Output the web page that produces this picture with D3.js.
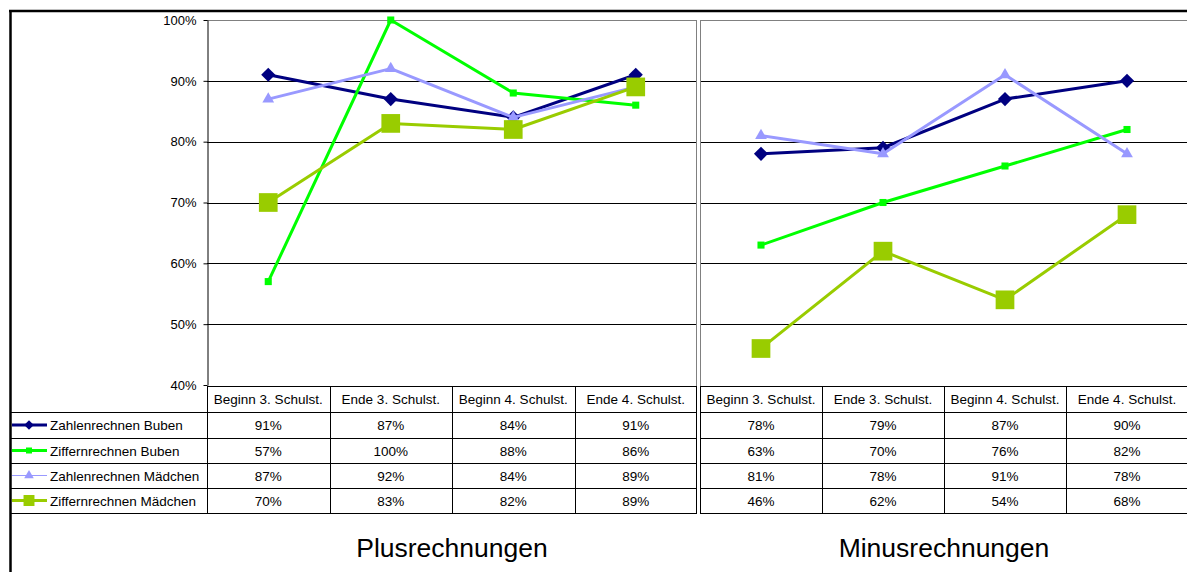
<!DOCTYPE html>
<html><head><meta charset="utf-8">
<script src="https://cdn.jsdelivr.net/npm/d3@7"></script>
<style>body{margin:0;background:#fff}svg{display:block;font-family:Arial,"Liberation Sans",sans-serif}</style>
</head><body><svg id="c" width="1187" height="572"></svg>
<script>
const categories = ["Beginn 3. Schulst.","Ende 3. Schulst.","Beginn 4. Schulst.","Ende 4. Schulst."];
const seriesNames = ["Zahlenrechnen Buben","Ziffernrechnen Buben","Zahlenrechnen Mädchen","Ziffernrechnen Mädchen"];
const plusZahlenBuben = [0.91,0.87,0.84,0.91];
const plusZiffernBuben = [0.57,1.00,0.88,0.86];
const plusZahlenMaedchen = [0.87,0.92,0.84,0.89];
const plusZiffernMaedchen = [0.70,0.83,0.82,0.89];
const minusZahlenBuben = [0.78,0.79,0.87,0.90];
const minusZiffernBuben = [0.63,0.70,0.76,0.82];
const minusZahlenMaedchen = [0.81,0.78,0.91,0.78];
const minusZiffernMaedchen = [0.46,0.62,0.54,0.68];
const yTicks = [0.4,0.5,0.6,0.7,0.8,0.9,1.0];
const panelTitles = ["Plusrechnungen","Minusrechnungen"];

const styles = [
  {color:"#000080", width:3, marker:"diamond", size:100, legendSize:45, legendWidth:3},
  {color:"#00FF00", width:3, marker:"square", size:50, legendSize:36, legendWidth:3},
  {color:"#9999FF", width:3, marker:"triangle", size:60, legendSize:40, legendWidth:1},
  {color:"#99CC00", width:3, marker:"square", size:350, legendSize:120, legendWidth:3}
];
const symType = {diamond:d3.symbolSquare, square:d3.symbolSquare, triangle:d3.symbolTriangle};
const rot = m => m === "diamond" ? " rotate(45)" : "";

const svg = d3.select("#c");
const y = d3.scaleLinear().domain([0.4,1.0]).range([385,20]);
const rowsY = [386,412,438,463,488,513];

const panels = [
  {x0:207, x1:697, data:[plusZahlenBuben,plusZiffernBuben,plusZahlenMaedchen,plusZiffernMaedchen], axis:true, title:panelTitles[0]},
  {x0:700, x1:1188, data:[minusZahlenBuben,minusZiffernBuben,minusZahlenMaedchen,minusZiffernMaedchen], axis:false, title:panelTitles[1]}
];

panels.forEach(p => {
  const x = d3.scaleBand().domain(categories).range([p.x0,p.x1]).padding(0);
  const g = svg.append("g");
  g.selectAll(".grid").data(yTicks.filter(t=>t>0.4 && t<1.0)).join("line")
    .attr("x1",p.x0).attr("x2",p.x1).attr("y1",d=>Math.round(y(d))+0.5).attr("y2",d=>Math.round(y(d))+0.5)
    .attr("stroke","#000").attr("stroke-width",1);
  g.append("line").attr("x1",p.x0).attr("x2",p.x1).attr("y1",20.5).attr("y2",20.5).attr("stroke","#808080");
  g.append("line").attr("x1",p.x1-0.5).attr("x2",p.x1-0.5).attr("y1",20).attr("y2",386).attr("stroke","#808080");
  if (p.axis) {
    const ax = g.append("g").attr("transform",`translate(${p.x0+0.5},0)`)
      .call(d3.axisLeft(y).tickValues(yTicks).tickFormat(d3.format(".0%")).tickSize(4).tickSizeOuter(0));
    ax.select(".domain").attr("stroke","#000");
    ax.selectAll("text").attr("font-size",13).attr("fill","#000").attr("font-family","Arial, Liberation Sans, sans-serif").attr("x",-11);
    ax.selectAll(".tick line").attr("stroke","#000");
  } else {
    g.append("line").attr("x1",p.x0+0.5).attr("x2",p.x0+0.5).attr("y1",20).attr("y2",513).attr("stroke","#808080");
  }
  const t = svg.append("g");
  const lx0 = p.axis ? 10 : p.x0;
  t.append("line").attr("x1",p.x0).attr("x2",p.x1).attr("y1",rowsY[0]+0.5).attr("y2",rowsY[0]+0.5).attr("stroke","#000");
  rowsY.slice(1).forEach(ry => {
    t.append("line").attr("x1",lx0).attr("x2",p.x1).attr("y1",ry+0.5).attr("y2",ry+0.5).attr("stroke","#000");
  });
  categories.forEach((c,i) => {
    const cx = x(c);
    t.append("line").attr("x1",Math.round(cx)+0.5).attr("x2",Math.round(cx)+0.5).attr("y1",rowsY[0]).attr("y2",rowsY[5]).attr("stroke","#000");
    t.append("text").attr("x",cx+x.bandwidth()/2).attr("y",(rowsY[0]+rowsY[1])/2+5).attr("text-anchor","middle")
      .attr("font-size",13.5).text(c);
    p.data.forEach((s,si) => {
      t.append("text").attr("x",cx+x.bandwidth()/2).attr("y",(rowsY[si+1]+rowsY[si+2])/2+5).attr("text-anchor","middle")
        .attr("font-size",13.5).text(d3.format(".0%")(s[i]));
    });
  });
  t.append("line").attr("x1",p.x1-0.5).attr("x2",p.x1-0.5).attr("y1",rowsY[0]).attr("y2",rowsY[5]).attr("stroke","#000");
  p.data.forEach((s,si) => {
    const st = styles[si];
    const line = d3.line().x((d,i)=>x(categories[i])+x.bandwidth()/2).y(d=>y(d));
    g.append("path").attr("d",line(s)).attr("fill","none").attr("stroke",st.color).attr("stroke-width",st.width).attr("stroke-linejoin","round");
    g.selectAll(null).data(s).join("path")
      .attr("transform",(d,i)=>`translate(${x(categories[i])+x.bandwidth()/2},${y(d)})${rot(st.marker)}`)
      .attr("d",d3.symbol().type(symType[st.marker]).size(st.size)).attr("fill",st.color);
  });
  svg.append("text").attr("x",(p.x0+p.x1)/2).attr("y",557).attr("text-anchor","middle").attr("font-size",26.5).text(p.title);
});

seriesNames.forEach((n,si) => {
  const st = styles[si];
  const cy = (rowsY[si+1]+rowsY[si+2])/2;
  svg.append("line").attr("x1",12).attr("x2",47).attr("y1",cy).attr("y2",cy).attr("stroke",st.color).attr("stroke-width",st.legendWidth);
  svg.append("path").attr("transform",`translate(29,${cy})${rot(st.marker)}`).attr("d",d3.symbol().type(symType[st.marker]).size(st.legendSize)).attr("fill",st.color);
  svg.append("text").attr("x",50).attr("y",cy+5).attr("font-size",13.5).text(n);
});

svg.append("line").attr("x1",9).attr("x2",1187).attr("y1",11).attr("y2",11).attr("stroke","#000").attr("stroke-width",2.5);
svg.append("line").attr("x1",10.5).attr("x2",10.5).attr("y1",10).attr("y2",572).attr("stroke","#000").attr("stroke-width",2.5);
</script></body></html>
